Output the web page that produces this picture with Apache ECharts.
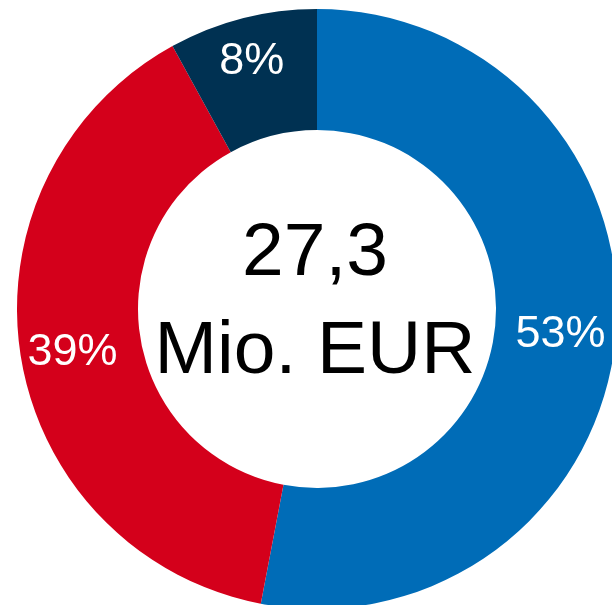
<!DOCTYPE html>
<html>
<head>
<meta charset="utf-8">
<script src="https://cdn.jsdelivr.net/npm/echarts@6/dist/echarts.min.js"></script>
<style>
    html, body { margin: 0; padding: 0; background: #fff; }
    #main { width: 612px; height: 605px; }
</style>
</head>
<body>
<div id="main"></div>
<script>
    // Anteile in Prozent, im Uhrzeigersinn ab 12 Uhr
    const categories = ['Segment A', 'Segment B', 'Segment C'];
    const shares = [53, 39, 8];
    const colors = ['#006cb7', '#d4001b', '#003152'];
    const totalLabel = '27,3\nMio. EUR';

    // kleine Korrektur, damit die Labels wie im Original sitzen
    const labelOffsets = [[2, 3], [-5, 6], [-5, -13]];

    const myChart = echarts.init(document.getElementById('main'));

    const option = {
        animation: false,
        graphic: [
            {
                type: 'text',
                x: 315,
                y: 205,
                silent: true,
                style: {
                    text: totalLabel,
                    align: 'center',
                    verticalAlign: 'top',
                    fontFamily: 'Liberation Sans',
                    fontSize: 75,
                    lineHeight: 98,
                    fill: '#000'
                }
            }
        ],
        series: [
            {
                type: 'pie',
                center: [317, 309],
                radius: [179, 300],
                startAngle: 90,
                clockwise: true,
                silent: true,
                itemStyle: {borderWidth: 0},
                label: {
                    show: true,
                    position: 'inside',
                    color: '#fff',
                    fontFamily: 'Liberation Sans',
                    fontSize: 45,
                    formatter: function (p) {
                        return p.value + '%';
                    }
                },
                labelLine: {show: false},
                data: categories.map(function (name, i) {
                    return {
                        name: name,
                        value: shares[i],
                        itemStyle: {color: colors[i]},
                        label: {offset: labelOffsets[i]}
                    };
                })
            }
        ]
    };

    myChart.setOption(option);
</script>
</body>
</html>
